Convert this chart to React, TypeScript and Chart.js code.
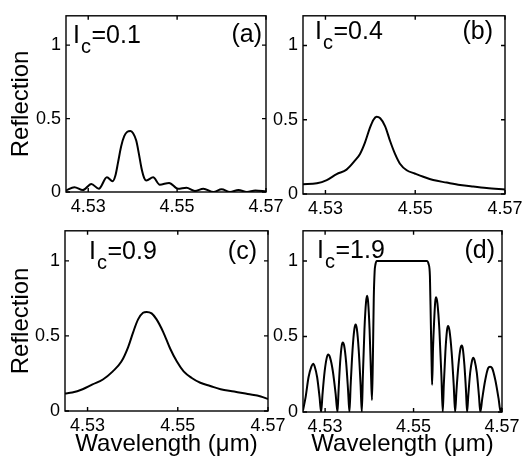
import React, { useEffect, useRef } from 'react';
import { Chart, registerables } from 'chart.js';

Chart.register(...registerables);

const FONT = '"Liberation Sans", Arial, Helvetica, sans-serif';

// Axis settings
const X_MIN = 4.525;
const X_MAX = 4.57;
const Y_MIN = 0;
const Y_MAX = 1.2;
const xTicks = [4.53, 4.55, 4.57];
const yTicks = [0, 0.5, 1];
const xTitle = 'Wavelength (\u03bcm)';
const yTitle = 'Reflection';

// Panel (a): I_c = 0.1
const wlA = [4.525, 4.5269, 4.5288, 4.5307, 4.5324, 4.5342, 4.5355, 4.5361, 4.5367, 4.5374, 4.5381, 4.5388, 4.5395, 4.5401, 4.5408, 4.5414, 4.542, 4.5426, 4.5431, 4.5446, 4.5461, 4.5482, 4.5502, 4.5521, 4.554, 4.5559, 4.5582, 4.56, 4.5619, 4.5638, 4.5657, 4.5676, 4.57];
const rA = [0.01, 0.033, 0.013, 0.055, 0.022, 0.1, 0.073, 0.11, 0.2, 0.31, 0.38, 0.41, 0.415, 0.4, 0.35, 0.26, 0.16, 0.095, 0.078, 0.1, 0.05, 0.062, 0.022, 0.029, 0.007, 0.022, 0.0, 0.018, 0.0, 0.013, 0.0, 0.011, 0.003];

// Panel (b): I_c = 0.4
const wlB = [4.525, 4.5281, 4.5303, 4.5325, 4.5347, 4.5366, 4.5377, 4.5388, 4.5399, 4.5407, 4.5414, 4.5422, 4.5433, 4.5444, 4.5455, 4.5466, 4.5481, 4.5499, 4.5518, 4.554, 4.557, 4.56, 4.5629, 4.5659, 4.57];
const rB = [0.066, 0.072, 0.094, 0.134, 0.164, 0.226, 0.27, 0.346, 0.445, 0.5, 0.52, 0.51, 0.456, 0.357, 0.27, 0.204, 0.16, 0.138, 0.116, 0.094, 0.077, 0.061, 0.05, 0.04, 0.03];

// Panel (c): I_c = 0.9
const wlC = [4.525, 4.5266, 4.5289, 4.5311, 4.5334, 4.5356, 4.5375, 4.539, 4.5401, 4.5412, 4.5423, 4.5431, 4.5442, 4.5453, 4.5468, 4.5483, 4.5498, 4.5513, 4.5531, 4.555, 4.5572, 4.5595, 4.5625, 4.5655, 4.5684, 4.57];
const rC = [0.117, 0.123, 0.145, 0.177, 0.21, 0.264, 0.329, 0.426, 0.524, 0.61, 0.654, 0.66, 0.65, 0.61, 0.524, 0.416, 0.329, 0.264, 0.22, 0.188, 0.167, 0.145, 0.13, 0.113, 0.097, 0.08];

// Panel (d): I_c = 1.9
const wlD = [
  4.525, 4.5256, 4.52625, 4.5269, 4.5273, 4.52766, 4.5282, 4.52874, 4.5291,
  4.52942, 4.5299, 4.53038, 4.5307, 4.53112, 4.53175, 4.53238, 4.5328,
  4.53304, 4.5334, 4.53376, 4.534, 4.5343, 4.53475, 4.5352, 4.5355,
  4.53578, 4.5362, 4.53662, 4.5369, 4.53718, 4.5376, 4.53802, 4.5383,
  4.53854, 4.5389, 4.53926, 4.5395, 4.53972, 4.54005, 4.54038, 4.5406,
  4.5408, 4.541, 4.5412, 4.5414, 4.5417, 4.553, 4.5534, 4.5537, 4.5539, 4.5541, 4.5542,
  4.5544, 4.5547, 4.5549, 4.5551, 4.5554, 4.55585, 4.5563, 4.5566,
  4.55684, 4.5572, 4.55756, 4.5578, 4.55812, 4.5586, 4.55908, 4.5594,
  4.5597, 4.56015, 4.5606, 4.5609, 4.56114, 4.5615, 4.56186, 4.5621,
  4.56238, 4.5628, 4.56322, 4.5635, 4.56382, 4.5643, 4.56478, 4.5651,
  4.56554, 4.5662, 4.56686, 4.5673, 4.56778, 4.5685, 4.56922, 4.5697, 4.57,
];
const rD = [
  0.01, 0.1, 0.23, 0.3, 0.32, 0.3, 0.23, 0.1, 0.0,
  0.12, 0.27, 0.36, 0.38, 0.36, 0.27, 0.12, 0.0,
  0.14, 0.33, 0.44, 0.46, 0.44, 0.33, 0.14, 0.0,
  0.18, 0.41, 0.55, 0.58, 0.55, 0.41, 0.18, 0.0,
  0.24, 0.55, 0.73, 0.77, 0.73, 0.55, 0.25, 0.08,
  0.35, 0.75, 0.93, 0.98, 1.0, 1.0, 0.98, 0.9, 0.6, 0.3, 0.18,
  0.42, 0.63, 0.73, 0.76, 0.72, 0.54, 0.24, 0.0,
  0.18, 0.4, 0.54, 0.57, 0.54, 0.4, 0.18, 0.0,
  0.14, 0.31, 0.42, 0.44, 0.42, 0.31, 0.14, 0.0,
  0.11, 0.26, 0.34, 0.36, 0.34, 0.26, 0.11, 0.0,
  0.09, 0.21, 0.29, 0.3, 0.29, 0.21, 0.09, 0.0, 0.03,
];

const couplings = ['0.1', '0.4', '0.9', '1.9'];
const letters = ['(a)', '(b)', '(c)', '(d)'];

type Area = { l: number; t: number; r: number; b: number };
type PanelDef = {
  wl: number[];
  r: number[];
  coupling: string;
  letter: string;
  area: Area;
  yW: number;
  showY: boolean;
  showX: boolean;
  lab: { dx: number; dy: number; dr: number; dyL: number };
};

const panels: PanelDef[] = [
  { wl: wlA, r: rA, coupling: couplings[0], letter: letters[0], area: { l: 66, t: 9, r: 266, b: 192 }, yW: 66, showY: true, showX: false, lab: { dx: 7, dy: 27, dr: 4, dyL: -1 } },
  { wl: wlB, r: rB, coupling: couplings[1], letter: letters[1], area: { l: 303, t: 12, r: 505, b: 194 }, yW: 45, showY: false, showX: false, lab: { dx: 12, dy: 23, dr: 12, dyL: 0 } },
  { wl: wlC, r: rC, coupling: couplings[2], letter: letters[2], area: { l: 65, t: 225, r: 268, b: 411 }, yW: 65, showY: true, showX: true, lab: { dx: 24, dy: 28, dr: 11, dyL: 0 } },
  { wl: wlD, r: rD, coupling: couplings[3], letter: letters[3], area: { l: 303, t: 225, r: 502, b: 412 }, yW: 45, showY: false, showX: true, lab: { dx: 14, dy: 27, dr: 7, dyL: 0 } },
];

const PAD_RIGHT = 22;

function PanelChart({ p }: { p: PanelDef }) {
  const ref = useRef<HTMLCanvasElement>(null);
  const canvasLeft = p.area.l - p.yW;
  const canvasTop = p.area.t < 20 ? 0 : p.area.t - 10;
  const padTop = p.area.t - canvasTop;
  const xH = p.showX ? 463 - p.area.b : 32;
  const w = p.yW + (p.area.r - p.area.l) + PAD_RIGHT;
  const h = padTop + (p.area.b - p.area.t) + xH;

  useEffect(() => {
    const canvas = ref.current;
    if (!canvas) return;

    const boxPlugin = {
      id: 'boxTicks',
      afterDatasetsDraw(chart: any) {
        const { ctx, chartArea: a, scales } = chart;
        const xs = scales.x;
        const ys = scales.y;
        ctx.save();
        ctx.strokeStyle = '#000';
        ctx.lineWidth = 1.4;
        ctx.strokeRect(a.left, a.top, a.right - a.left, a.bottom - a.top);
        const t = 4;
        ctx.beginPath();
        xTicks.forEach((v) => {
          const px = xs.getPixelForValue(v);
          ctx.moveTo(px, a.bottom);
          ctx.lineTo(px, a.bottom - t);
          ctx.moveTo(px, a.top);
          ctx.lineTo(px, a.top + t);
        });
        yTicks.forEach((v) => {
          const py = ys.getPixelForValue(v);
          ctx.moveTo(a.left, py);
          ctx.lineTo(a.left + t, py);
          ctx.moveTo(a.right, py);
          ctx.lineTo(a.right - t, py);
        });
        ctx.stroke();
        ctx.restore();
      },
    };

    const labelPlugin = {
      id: 'panelLabels',
      afterDraw(chart: any) {
        const { ctx, chartArea: a } = chart;
        ctx.save();
        ctx.fillStyle = '#000';
        ctx.textBaseline = 'alphabetic';
        ctx.textAlign = 'left';
        ctx.font = `25px ${FONT}`;
        let x = a.left + p.lab.dx;
        const y = a.top + p.lab.dy;
        ctx.fillText('I', x, y);
        x += ctx.measureText('I').width + 1;
        ctx.font = `20px ${FONT}`;
        ctx.fillText('c', x, y + 10);
        x += ctx.measureText('c').width + 0.5;
        ctx.font = `25px ${FONT}`;
        ctx.fillText('=' + p.coupling, x, y);
        ctx.textAlign = 'right';
        ctx.fillText(p.letter, a.right - p.lab.dr, y + p.lab.dyL);
        ctx.restore();
      },
    };

    const chart = new Chart(canvas, {
      type: 'line',
      data: {
        datasets: [
          {
            data: p.wl.map((wv, i) => ({ x: wv, y: p.r[i] })),
            borderColor: '#000',
            borderWidth: 2,
            pointRadius: 0,
            fill: false,
            cubicInterpolationMode: 'monotone',
          },
        ],
      },
      options: {
        animation: false,
        responsive: false,
        maintainAspectRatio: false,
        devicePixelRatio: 1,
        layout: { padding: { top: padTop, right: PAD_RIGHT, left: 0, bottom: 0 } },
        plugins: { legend: { display: false }, tooltip: { enabled: false } },
        scales: {
          x: {
            type: 'linear',
            min: X_MIN,
            max: X_MAX,
            grid: { display: false, drawTicks: false, tickLength: 0 },
            border: { display: false },
            afterBuildTicks: (s: any) => {
              s.ticks = xTicks.map((value) => ({ value }));
            },
            afterFit: (s: any) => {
              s.height = xH;
            },
            ticks: {
              color: '#000',
              font: { family: FONT, size: 18 },
              padding: 4,
              maxRotation: 0,
              autoSkip: false,
              callback: (v: any) => Number(v).toFixed(2),
            },
            title: {
              display: p.showX,
              text: xTitle,
              color: '#000',
              font: { family: FONT, size: 24 },
              padding: { top: 0, bottom: 4 },
            },
          },
          y: {
            type: 'linear',
            min: Y_MIN,
            max: Y_MAX,
            grid: { display: false, drawTicks: false, tickLength: 0 },
            border: { display: false },
            afterBuildTicks: (s: any) => {
              s.ticks = yTicks.map((value) => ({ value }));
            },
            afterFit: (s: any) => {
              s.width = p.yW;
            },
            ticks: {
              color: '#000',
              font: { family: FONT, size: 18 },
              padding: 5,
              crossAlign: 'near',
              callback: (v: any) => String(v),
            },
            title: {
              display: p.showY,
              text: yTitle,
              color: '#000',
              font: { family: FONT, size: 24 },
              padding: { top: 7, bottom: 0 },
            },
          },
        },
      },
      plugins: [boxPlugin, labelPlugin],
    } as any);

    return () => chart.destroy();
  }, []);

  return (
    <canvas
      ref={ref}
      width={w}
      height={h}
      style={{ position: 'absolute', left: canvasLeft, top: canvasTop, width: w, height: h }}
    />
  );
}

export default function App() {
  return (
    <div
      style={{
        position: 'absolute',
        left: 0,
        top: 0,
        width: 522,
        height: 463,
        overflow: 'hidden',
        background: '#fff',
      }}
    >
      {panels.map((p, i) => (
        <PanelChart key={i} p={p} />
      ))}
    </div>
  );
}
